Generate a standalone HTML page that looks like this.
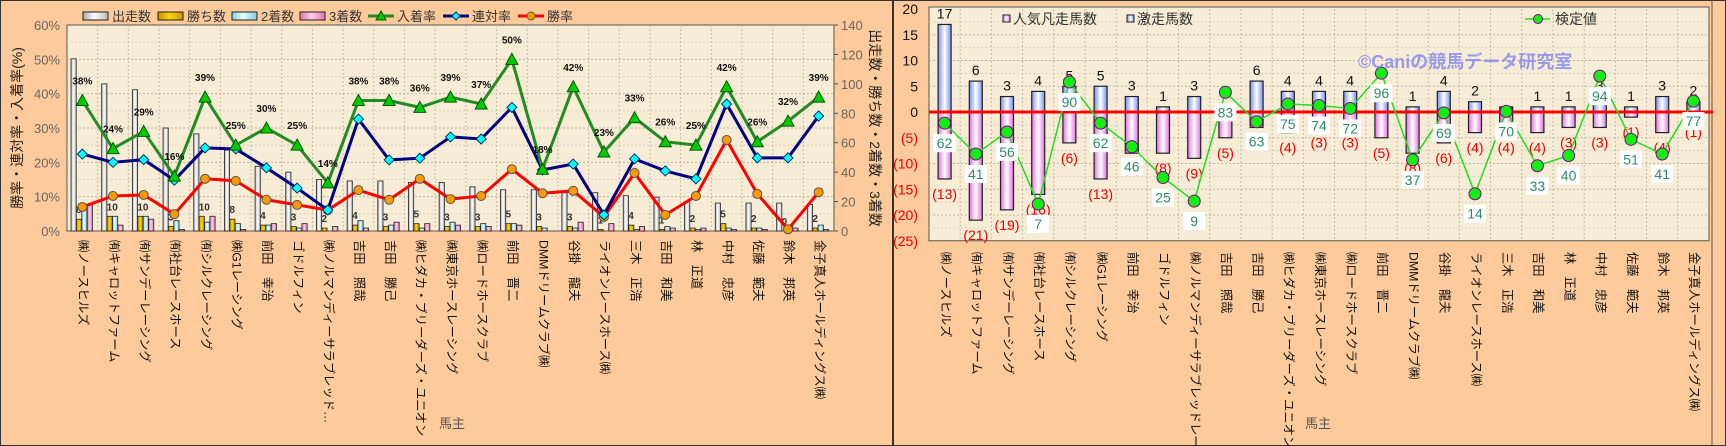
<!DOCTYPE html>
<html><head><meta charset="utf-8">
<style>
html,body{margin:0;padding:0;background:#fdcb9b;overflow:hidden;width:1726px;height:446px;}
svg{display:block;font-family:"Liberation Sans","Noto Sans CJK JP",sans-serif;}
</style></head>
<body>
<svg id="s" width="1726" height="446" xmlns="http://www.w3.org/2000/svg">
<defs>
<linearGradient id="gw" x1="0" x2="1"><stop offset="0" stop-color="#aaa"/><stop offset="0.45" stop-color="#fff"/><stop offset="1" stop-color="#bbb"/></linearGradient>
<linearGradient id="gy" x1="0" x2="1"><stop offset="0" stop-color="#c89000"/><stop offset="0.45" stop-color="#ffd700"/><stop offset="1" stop-color="#c89000"/></linearGradient>
<linearGradient id="gc" x1="0" x2="1"><stop offset="0" stop-color="#8cd"/><stop offset="0.45" stop-color="#dff"/><stop offset="1" stop-color="#8cd"/></linearGradient>
<linearGradient id="gp" x1="0" x2="1"><stop offset="0" stop-color="#d7a"/><stop offset="0.45" stop-color="#fce"/><stop offset="1" stop-color="#d7a"/></linearGradient>
<linearGradient id="gb" x1="0" x2="1"><stop offset="0" stop-color="#7890f0"/><stop offset="0.5" stop-color="#fff"/><stop offset="1" stop-color="#7890f0"/></linearGradient>
<linearGradient id="gm" x1="0" x2="1"><stop offset="0" stop-color="#e070e0"/><stop offset="0.5" stop-color="#fff"/><stop offset="1" stop-color="#e070e0"/></linearGradient>
</defs>
<rect x="0.5" y="0.5" width="1725" height="445" fill="#fdcb9b" stroke="#333"/>
<line x1="893" y1="0" x2="893" y2="446" stroke="#333" stroke-width="2"/>
<line x1="1712" y1="0" x2="1712" y2="446" stroke="#555" stroke-width="1"/>
<g id="g"></g>
</svg>
<script>
const NS="http://www.w3.org/2000/svg",G=document.getElementById('g');
function el(t,a,txt){const e=document.createElementNS(NS,t);for(const k in a)e.setAttribute(k,a[k]);if(txt!==undefined)e.textContent=txt;G.appendChild(e);return e;}
const names=["㈱ノースヒルズ","㈲キャロットファーム","㈲サンデーレーシング","㈲社台レースホース","㈲シルクレーシング","㈱G1レーシング","前田　幸治","ゴドルフィン","㈱ノルマンディーサラブレッド…","吉田　照哉","吉田　勝己","㈱ヒダカ・ブリーダーズ・ユニオン","㈱東京ホースレーシング","㈱ロードホースクラブ","前田　晋二","DMMドリームクラブ㈱","谷掛　龍夫","ライオンレースホース㈱","三木　正浩","吉田　和美","林　正道","中村　忠彦","佐藤　範夫","鈴木　邦英","金子真人ホールディングス㈱"];
const names2=names.slice();names2[8]="㈱ノルマンディーサラブレッドレー…";
// LEFT
const X0=67,X1=834,Y0=231,YT=25,W=(X1-X0)/25;
const py=p=>Y0-p*(Y0-YT)/60, cy=c=>Y0-c*(Y0-YT)/140;
el('rect',{x:X0,y:YT,width:X1-X0,height:Y0-YT,fill:'#f7ecd6',stroke:'#555'});
for(let p=5;p<60;p+=5)el('line',{x1:X0,x2:X1,y1:py(p),y2:py(p),stroke:p%10?'#ddd3c0':'#bdb5a5','stroke-dasharray':'2,2'});
for(let i=1;i<25;i++)el('line',{x1:X0+i*W,x2:X0+i*W,y1:YT,y2:Y0,stroke:'#c6bdad','stroke-dasharray':'2,2'});
const nyu=[38,24,29,16,39,25,30,25,14,38,38,36,39,37,50,18,42,23,33,26,25,42,26,32,39];
const ren=[22.4,20,20.8,14.8,24.2,23.9,18.4,12.5,6.1,32.6,20.7,21.2,27.4,26.8,36,17.8,19.5,4.7,21,17.5,15.2,37,21.3,21.3,33.5];
const win=[7,10.2,10.5,4.9,15.2,14.6,9.1,7.6,6.1,11.9,9.1,15.2,9.3,10.2,18,11,11.7,4.1,16.9,4.7,10.2,26.5,10.8,0.5,11.3];
const runs=[117,100,96,70,66,55,44,40,35,34,34,33,33,30,28,28,26,26,24,23,20,19,19,19,18];
for(let i=0;i<25;i++){
 const r=runs[i],w=Math.round(win[i]*r/100),s2=Math.max(0,Math.round((ren[i]-win[i])*r/100)),s3=Math.max(0,Math.round((nyu[i]-ren[i])*r/100));
 const bx=X0+i*W+4,vals=[r,w,s2,s3],fills=['url(#gw)','url(#gy)','url(#gc)','url(#gp)'];
 vals.forEach((v,k)=>{const h=v*(Y0-YT)/140;el('rect',{x:bx+k*5.4,y:Y0-h,width:5.2,height:h,fill:fills[k],stroke:'#222','stroke-width':0.8});});
 el('text',{x:bx+5,y:Y0-w*(Y0-YT)/140-6,'font-size':10,fill:'#333','font-weight':'bold'},w);
}
function line(vals,color,f){let d='';vals.forEach((v,i)=>{d+=(i?'L':'M')+(X0+(i+.5)*W)+','+py(v);});el('path',{d,fill:'none',stroke:color,'stroke-width':3});vals.forEach((v,i)=>f(X0+(i+.5)*W,py(v)));}
line(win,'#f00',(x,y)=>el('circle',{cx:x,cy:y,r:4.5,fill:'#f90',stroke:'#555'}));
line(ren,'#000080',(x,y)=>el('path',{d:`M${x},${y-5}L${x+5},${y}L${x},${y+5}L${x-5},${y}Z`,fill:'#0ff',stroke:'#036'}));
line(nyu,'#228b22',(x,y)=>el('path',{d:`M${x},${y-6}L${x+6},${y+5}L${x-6},${y+5}Z`,fill:'#0c0',stroke:'#050'}));
nyu.forEach((v,i)=>el('text',{x:X0+(i+.5)*W,y:py(v)-16,'font-size':10,'font-weight':'bold','text-anchor':'middle',fill:'#111'},v+'%'));
for(let p=0;p<=60;p+=10)el('text',{x:60,y:py(p)+5,'font-size':13,'text-anchor':'end',fill:'#666'},p+'%');
for(let c=0;c<=140;c+=20){el('line',{x1:X1,x2:X1+4,y1:cy(c),y2:cy(c),stroke:'#555'});el('text',{x:841,y:cy(c)+5,'font-size':13,fill:'#666'},c);}
el('text',{x:22,y:128,'font-size':14,'text-anchor':'middle',transform:'rotate(-90 22 128)',fill:'#222'},'勝率・連対率・入着率(%)');
el('text',{x:870,y:128,'font-size':14,'text-anchor':'middle',transform:'rotate(90 870 128)',fill:'#222'},'出走数・勝ち数・2着数・3着数');
names.forEach((n,i)=>{const x=X0+(i+.5)*W;el('text',{x,y:240,'font-size':12.3,'dominant-baseline':'middle',transform:`rotate(90 ${x} 240)`,fill:'#111'},n);});
el('text',{x:452,y:428,'font-size':13,'text-anchor':'middle',fill:'#555'},'馬主');
// legend left
[[83,'url(#gw)','出走数'],[158,'url(#gy)','勝ち数'],[232,'url(#gc)','2着数'],[300,'url(#gp)','3着数']].forEach(([x,f,t])=>{el('rect',{x,y:12,width:25,height:8,fill:f,stroke:'#222'});el('text',{x:x+29,y:21,'font-size':13,fill:'#333'},t);});
[[368,'#228b22','入着率','t'],[443,'#000080','連対率','d'],[518,'#f00','勝率','c']].forEach(([x,c,t,m])=>{el('line',{x1:x,x2:x+26,y1:16,y2:16,stroke:c,'stroke-width':3});const cx=x+13;
 if(m=='t')el('path',{d:`M${cx},${11}L${cx+5},${20}L${cx-5},${20}Z`,fill:'#0c0',stroke:'#050'});
 else if(m=='d')el('path',{d:`M${cx},12L${cx+4},16L${cx},20L${cx-4},16Z`,fill:'#0ff',stroke:'#036'});
 else el('circle',{cx,cy:16,r:4,fill:'#f90',stroke:'#555'});
 el('text',{x:x+29,y:21,'font-size':13,fill:'#333'},t);});
// RIGHT
const R0=929,R1=1709,RZ=112,U=5.15,RT=RZ-20*U,RB=RZ+25*U,W2=(R1-R0)/25;
const ry=v=>RZ-v*U;
el('rect',{x:R0,y:RT-2,width:R1-R0,height:RB-RT+2,fill:'#f7ecd6',stroke:'#555'});
for(let v=-22.5;v<20;v+=2.5)el('line',{x1:R0,x2:R1,y1:ry(v),y2:ry(v),stroke:v%5?'#ddd3c0':'#c0b8a8','stroke-dasharray':'2,2'});
for(let i=1;i<25;i++)el('line',{x1:R0+i*W2,x2:R0+i*W2,y1:RT,y2:RB,stroke:'#c6bdad','stroke-dasharray':'2,2'});
for(let v=20;v>=-25;v-=5)el('text',{x:918,y:ry(v)+5,'font-size':14,'text-anchor':'end',fill:v<0?'#e00':'#111'},v<0?'('+(-v)+')':v);
const blue=[17,6,3,4,5,5,3,1,3,0,6,4,4,4,3,1,4,2,1,1,1,3,1,3,2];
const showB=[1,1,1,1,1,1,1,1,1,0,1,1,1,1,0,1,1,1,0,1,1,1,1,1,1];
const pink=[13,21,19,16,6,13,8,8,9,5,3,4,3,3,5,8,6,4,4,4,3,3,1,4,1];
const kv=[62,41,56,7,90,62,46,25,9,83,63,75,74,72,96,37,69,14,70,33,40,94,51,41,77];
for(let i=0;i<25;i++){const x=R0+(i+.5)*W2;
 el('rect',{x:x-6.5,y:RZ,width:13,height:pink[i]*U,fill:'url(#gm)',stroke:'#222','stroke-width':1.2});
 if(blue[i])el('rect',{x:x-6.5,y:ry(blue[i]),width:13,height:blue[i]*U,fill:'url(#gb)',stroke:'#222','stroke-width':1.2});
 if(showB[i])el('text',{x,y:ry(blue[i])-6,'font-size':14,'text-anchor':'middle',fill:'#111'},blue[i]);
 el('text',{x,y:RZ+pink[i]*U+20,'font-size':14,'text-anchor':'middle',fill:'#e00'},'('+pink[i]+')');
}
el('line',{x1:R0,x2:R1+4,y1:RZ,y2:RZ,stroke:'#f00','stroke-width':3});
const ky=v=>214.3-1.47*v;
let d='';kv.forEach((v,i)=>d+=(i?'L':'M')+(R0+(i+.5)*W2)+','+ky(v));
el('path',{d,fill:'none',stroke:'#2d2','stroke-width':1.5});
kv.forEach((v,i)=>{const x=R0+(i+.5)*W2,y=ky(v);el('circle',{cx:x,cy:y,r:6,fill:'#1e1',stroke:'#808'});
 el('rect',{x:x-11,y:y+11,width:22,height:18,fill:'#fff'});
 el('text',{x,y:y+25,'font-size':14,'text-anchor':'middle',fill:'#2e8b6a'},v);});
el('text',{x:1358,y:68,'font-size':18,'font-weight':'bold',fill:'#8a8cf0','fill-opacity':0.85},'©Caniの競馬データ研究室');
el('rect',{x:1003,y:15,width:7,height:7,fill:'url(#gm)',stroke:'#222'});el('text',{x:1013,y:24,'font-size':14,fill:'#333'},'人気凡走馬数');
el('rect',{x:1127,y:15,width:7,height:7,fill:'url(#gb)',stroke:'#222'});el('text',{x:1137,y:24,'font-size':14,fill:'#333'},'激走馬数');
el('line',{x1:1525,x2:1550,y1:19,y2:19,stroke:'#2d2','stroke-width':1.5});el('circle',{cx:1538,cy:19,r:4.5,fill:'#1e1',stroke:'#808'});
el('text',{x:1555,y:24,'font-size':14,fill:'#333'},'検定値');
names2.forEach((n,i)=>{const x=R0+(i+.5)*W2;el('text',{x,y:252,'font-size':12.3,'dominant-baseline':'middle',transform:`rotate(90 ${x} 252)`,fill:'#111'},n);});
el('text',{x:1318,y:428,'font-size':13,'text-anchor':'middle',fill:'#555'},'馬主');
</script>
</body></html>
